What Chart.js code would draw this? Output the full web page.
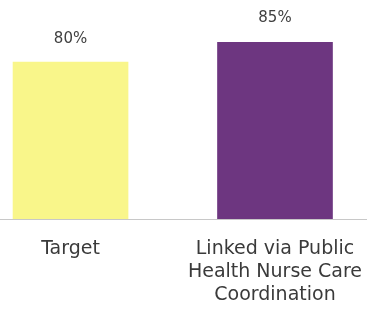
<!DOCTYPE html>
<html lang="en">
  <head>
    <meta charset="UTF-8" />
    <title>Linked via PHN</title>
    <script src="https://cdn.jsdelivr.net/npm/chart.js"></script>
    <style>
      html, body { margin: 0; padding: 0; background: #fff; }
      #wrap { width: 367px; height: 317px; }
    </style>
  </head>
  <body>
    <div id="wrap"><canvas id="phnChart"></canvas></div>
    <script>
      // data
      var categories = [["Target"], ["Linked via Public", "Health Nurse Care", "Coordination"]];
      var values = [80, 85];
      var barColors = ["#f9f68a", "#6d3680"];

      var points = values.map(function (v, i) { return { x: i, y: v }; });

      // value labels above bars
      var valueLabels = {
        id: "valueLabels",
        afterDatasetsDraw: function (chart) {
          var ctx = chart.ctx;
          var meta = chart.getDatasetMeta(0);
          ctx.save();
          ctx.font = "15px 'DejaVu Sans'";
          ctx.fillStyle = "#404040";
          ctx.textAlign = "center";
          ctx.textBaseline = "bottom";
          meta.data.forEach(function (bar, i) {
            ctx.fillText(values[i] + "%", bar.x, bar.y - 16);
          });
          ctx.restore();
        }
      };

      new Chart(document.getElementById("phnChart"), {
        type: "bar",
        data: {
          datasets: [{
            data: points,
            backgroundColor: barColors,
            borderWidth: 0,
            barThickness: 115
          }]
        },
        options: {
          responsive: true,
          maintainAspectRatio: false,
          animation: false,
          layout: { padding: { top: 42, bottom: -9, left: 0, right: 0 } },
          plugins: { legend: { display: false }, tooltip: { enabled: false } },
          scales: {
            x: {
              type: "linear",
              min: -0.345,
              max: 1.45,
              offset: false,
              bounds: "data",
              afterBuildTicks: function (axis) {
                axis.ticks = categories.map(function (c, i) { return { value: i }; });
              },
              afterFit: function (axis) {
                // labels fit inside the canvas already, keep the plot full width
                axis.paddingLeft = 0;
                axis.paddingRight = 0;
              },
              grid: { display: false, drawTicks: false },
              border: { display: true, color: "#c8c8c8", dash: [2, 3], width: 1 },
              ticks: {
                autoSkip: false,
                maxRotation: 0,
                padding: 19,
                color: "#3a3a3a",
                font: { family: "'DejaVu Sans'", size: 19, lineHeight: 1.21 },
                callback: function (v) { return categories[v] || ""; }
              }
            },
            y: {
              display: false,
              min: 41,
              max: 85
            }
          }
        },
        plugins: [valueLabels]
      });
    </script>
  </body>
</html>
